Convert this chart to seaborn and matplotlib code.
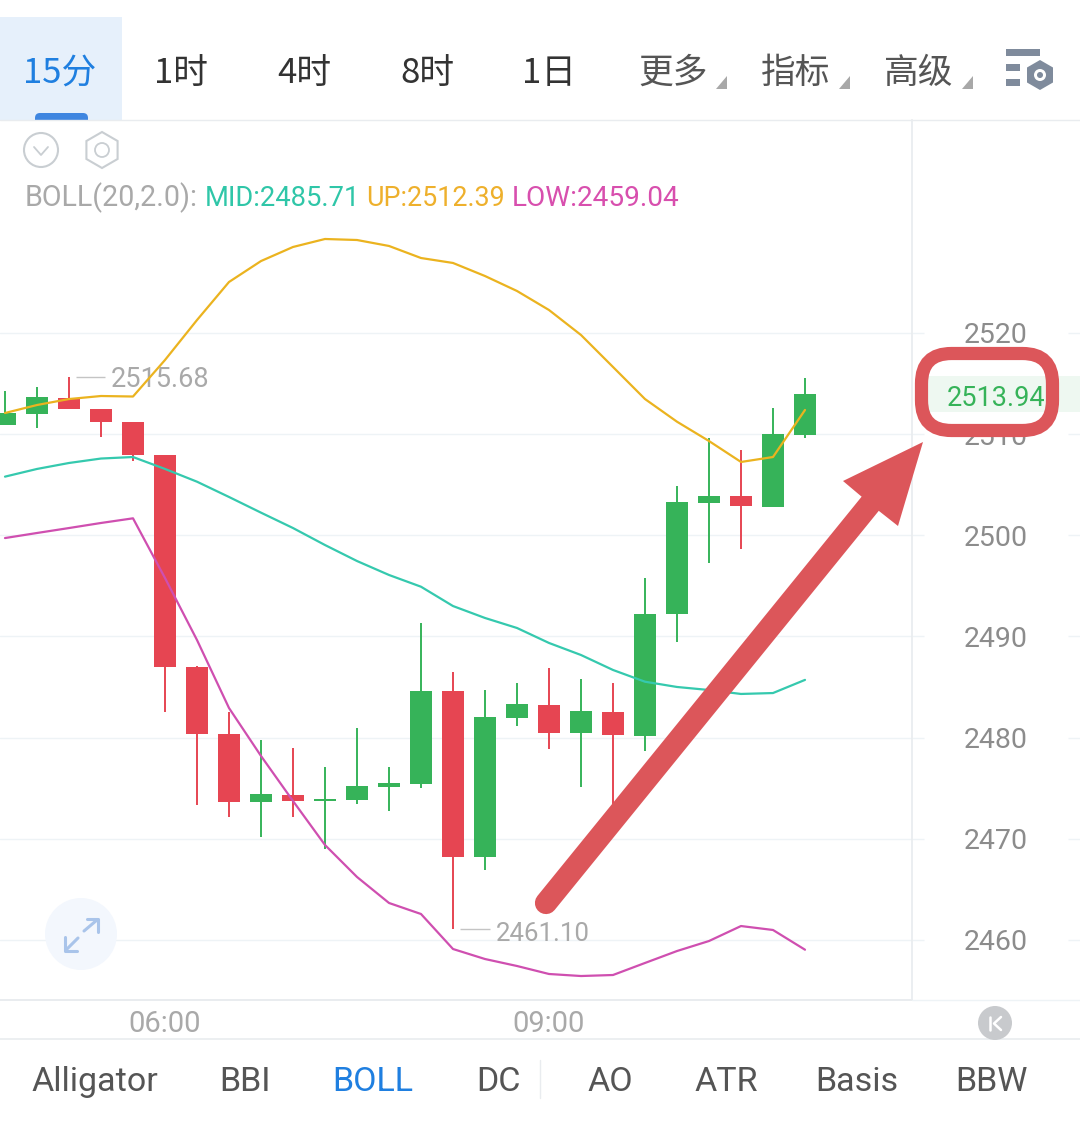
"""
BOLL(20,2) candlestick screen from a trading app, 15 minute bars,
with the red call-out arrow pointing at the latest price.
"""

import matplotlib.pyplot as plt
import numpy as np
import pandas as pd
import seaborn as sns
from matplotlib.patches import Circle, FancyBboxPatch, Polygon, Rectangle

W, H = 1080, 1143

opens = [2510.90, 2511.96, 2513.62, 2512.44, 2511.25, 2507.94, 2486.98, 2480.36, 2473.64, 2474.36,
         2473.74, 2473.84, 2475.15, 2475.45, 2484.61, 2468.20, 2481.94, 2483.23, 2480.46, 2482.54,
         2480.16, 2492.22, 2503.19, 2503.89, 2502.83, 2509.95]
highs = [2514.26, 2514.66, 2515.68, 2512.44, 2511.25, 2507.94, 2487.08, 2482.57, 2479.77, 2478.98,
         2477.13, 2480.95, 2477.13, 2491.33, 2486.52, 2484.71, 2485.40, 2486.89, 2485.80, 2485.40,
         2495.78, 2504.88, 2509.62, 2508.43, 2512.58, 2515.55]
lows = [2510.90, 2510.61, 2512.49, 2509.72, 2507.35, 2482.54, 2473.34, 2472.19, 2470.18, 2472.19,
        2468.99, 2473.44, 2472.75, 2475.02, 2461.10, 2466.92, 2481.15, 2478.88, 2475.15, 2473.34,
        2478.71, 2489.49, 2497.26, 2498.65, 2502.83, 2509.62]
closes = [2512.06, 2513.70, 2512.49, 2511.25, 2507.94, 2486.98, 2480.36, 2473.67, 2474.43, 2473.74,
          2473.94, 2475.22, 2475.52, 2484.61, 2468.23, 2482.04, 2483.33, 2480.49, 2482.64, 2480.26,
          2492.22, 2503.29, 2503.92, 2502.90, 2510.04, 2513.94]

boll_up = [2512.09, 2512.88, 2513.47, 2513.77, 2513.72, 2517.33, 2521.28, 2525.04, 2527.11, 2528.50,
           2529.29, 2529.19, 2528.60, 2527.41, 2526.92, 2525.63, 2524.15, 2522.27, 2519.80, 2516.64,
           2513.47, 2511.23, 2509.32, 2507.25, 2507.74, 2512.39]
boll_mid = [2505.80, 2506.56, 2507.15, 2507.59, 2507.74, 2506.56, 2505.30, 2503.79, 2502.24, 2500.72,
            2499.04, 2497.46, 2496.08, 2494.92, 2493.01, 2491.83, 2490.84, 2489.36, 2488.17, 2486.69,
            2485.53, 2485.01, 2484.71, 2484.32, 2484.41, 2485.71]
boll_low = [2499.73, 2500.23, 2500.72, 2501.22, 2501.68, 2495.78, 2489.65, 2482.93, 2478.19, 2473.74,
            2469.39, 2466.23, 2463.66, 2462.57, 2459.11, 2458.12, 2457.43, 2456.64, 2456.44, 2456.54,
            2457.73, 2458.91, 2459.90, 2461.38, 2460.99, 2459.04]

price_ticks = [2460, 2470, 2480, 2490, 2500, 2510, 2520]
time_ticks = [5, 17]
time_labels = ["06:00", "09:00"]

top_tabs = ["15分", "1时", "4时", "8时", "1日", "更多", "指标", "高级"]
bottom_tabs = ["Alligator", "BBI", "BOLL", "DC", "AO", "ATR", "Basis", "BBW"]

RED = "#e64552"
GREEN = "#36b359"
YELLOW = "#ebb31f"
TEAL = "#35c9ae"
MAGENTA = "#cf4fb0"
BLUE = "#1f7fe0"
ANNOT = "#dc565a"
GRID = "#eef3f6"
EDGE = "#e9ecef"
GREY = "#a9a9a9"

CJK = ["Noto Sans CJK SC", "DejaVu Sans"]
LATIN = ["Roboto", "DejaVu Sans"]


def px(x):
    """Screen x pixel to candle index."""
    return (x - 5) / 32


def draw_candles(ax):
    df = pd.DataFrame({"open": opens, "high": highs, "low": lows, "close": closes})
    df["idx"] = df.index
    colors = [GREEN if c > o else RED for o, c in zip(df["open"], df["close"])]
    ax.vlines(df["idx"], df["low"], df["high"], colors=colors, linewidth=1.4, zorder=3)
    ax.bar(df["idx"], (df["close"] - df["open"]).abs(), bottom=df[["open", "close"]].min(axis=1),
           width=0.665, color=colors, linewidth=0, zorder=3)


def draw_bands(ax):
    bands = pd.DataFrame({"idx": range(len(boll_up)), "up": boll_up, "mid": boll_mid, "low": boll_low})
    for col, color in [("up", YELLOW), ("mid", TEAL), ("low", MAGENTA)]:
        sns.lineplot(data=bands, x="idx", y=col, color=color, linewidth=1.6, ax=ax, zorder=4,
                     errorbar=None, legend=False)


def draw_chart(fig):
    ax = fig.add_axes([0, 1 - 1000 / H, 912 / W, 880 / H])
    draw_candles(ax)
    draw_bands(ax)

    ax.set_xlim(px(0), px(912))
    ax.set_ylim(2460 - 60 / 10.117, 2460 + 820 / 10.117)
    ax.set_xlabel("")
    ax.set_ylabel("")

    ax.yaxis.tick_right()
    ax.set_yticks(price_ticks)
    ax.set_yticklabels([str(t) for t in price_ticks], family=LATIN, fontsize=20.5, color="#8c8c8c")
    ax.set_xticks(time_ticks)
    ax.set_xticklabels(time_labels, family=LATIN, fontsize=21, color=GREY)
    ax.tick_params(axis="y", length=0, pad=37)
    ax.tick_params(axis="x", length=0, pad=7)
    ax.grid(axis="y", color=GRID, linewidth=1)
    ax.grid(axis="x", visible=False)
    ax.set_axisbelow(True)

    for side in ["top", "left"]:
        ax.spines[side].set_visible(False)
    ax.spines["right"].set_color(EDGE)
    ax.spines["bottom"].set_color(EDGE)
    ax.spines["bottom"].set_linewidth(1.4)

    # short tick stubs either side of the price labels
    ax.hlines(price_ticks, px(912), px(924), color=GRID, linewidth=1, clip_on=False)
    ax.hlines(price_ticks, px(1068), px(1080), color=GRID, linewidth=1, clip_on=False)

    # high / low markers
    hi = int(np.argmax(highs))
    lo = int(np.argmin(lows))
    ax.hlines(highs[hi], hi + 0.22, hi + 1.13, color="#c4c4c4", linewidth=1, zorder=2)
    ax.text(hi + 1.31, highs[hi] - 0.3, f"{highs[hi]:.2f}", color=GREY, family=LATIN, fontsize=19.5,
            va="center", zorder=2)
    ax.hlines(lows[lo], lo + 0.22, lo + 1.15, color="#c4c4c4", linewidth=1, zorder=2)
    ax.text(lo + 1.35, lows[lo] - 0.5, f"{lows[lo]:.2f}", color=GREY, family=LATIN, fontsize=18.6,
            va="center", zorder=2)
    return ax


def hexagon(ui, cx, cy, r, **kw):
    ang = np.radians(np.arange(30, 390, 60))
    ui.add_patch(Polygon(np.c_[cx + r * np.cos(ang), cy + r * np.sin(ang)], closed=True, **kw))


def draw_header(ui):
    ui.add_patch(Rectangle((0, 17), 122, 103, color="#e6f0fb", lw=0))
    ui.add_patch(FancyBboxPatch((35, 113), 53, 13, boxstyle="round,pad=0,rounding_size=5", color="#3f86e0", lw=0))
    ui.add_patch(Rectangle((0, 120), 122, 8, color="white", lw=0))
    ui.plot([0, W], [120, 120], color=EDGE, lw=1)

    tab_x = [60, 181, 304, 427, 549, 673, 796, 919]
    for i, (label, x) in enumerate(zip(top_tabs, tab_x)):
        color = BLUE if i == 0 else ("#333333" if i < 5 else "#555555")
        ui.text(x, 73, label, color=color, family=CJK, fontsize=25, ha="center", va="center")
    for x in [716, 839, 962]:
        ui.add_patch(Polygon([(x + 11, 76), (x + 11, 89), (x, 89)], color="#a8a8a8", lw=0))

    # settings icon
    for x0, y0, w in [(1006, 49, 34), (1006, 64, 14), (1006, 79, 14)]:
        ui.add_patch(Rectangle((x0, y0), w, 7, color="#7f8b9c", lw=0))
    hexagon(ui, 1040, 75, 15, color="#7f8b9c", lw=0)
    ui.add_patch(Circle((1040, 75), 6, color="white", lw=0))
    ui.add_patch(Circle((1040, 75), 3, color="#7f8b9c", lw=0))

    # collapse and settings icons over the chart
    ui.add_patch(Circle((41, 150), 17, fill=False, ec="#c9ced2", lw=1.5))
    ui.plot([34, 41, 48], [147, 155, 147], color="#c9ced2", lw=1.3)
    hexagon(ui, 102, 150, 18, fill=False, ec="#c9ced2", lw=1.5)
    ui.add_patch(Circle((102, 150), 7, fill=False, ec="#c9ced2", lw=1.3))

    legend = [("BOLL(20,2.0):", 25, GREY, 20.6), ("MID:2485.71", 205, "#2fc6a8", 19.7),
              ("UP:2512.39", 366, "#eeb02c", 19.4), ("LOW:2459.04", 512, "#d84fae", 20.2)]
    for label, x, color, size in legend:
        ui.text(x, 198, label, color=color, family=LATIN, fontsize=size, ha="left", va="center")


def draw_footer(ui):
    ui.plot([0, W], [1039, 1039], color=EDGE, lw=1.2)
    ui.plot([912, W], [1000, 1000], color=GRID, lw=1)
    ui.plot([540, 540], [1060, 1098], color=EDGE, lw=1)

    tab_x = [94.5, 245, 372.5, 498.5, 610.5, 726.5, 856.5, 991.5]
    for label, x in zip(bottom_tabs, tab_x):
        color = BLUE if label == "BOLL" else "#555555"
        ui.text(x, 1082, label, color=color, family=LATIN, fontsize=24.5, ha="center", va="center")

    # expand button
    ui.add_patch(Circle((81, 934), 36, color="#f3f7fd", lw=0))
    for pts in ([(84, 931), (97, 920)], [(78, 938), (66, 950)]):
        ui.plot(*zip(*pts), color="#a9c4ea", lw=2.2)
    ui.plot([87, 98, 98], [919, 919, 932], color="#a9c4ea", lw=2.2)
    ui.plot([65, 65, 77], [937, 951, 951], color="#a9c4ea", lw=2.2)

    # jump-to-latest button
    ui.add_patch(Circle((995, 1023), 17, color="#c8cacd", lw=0, zorder=3))
    ui.plot([990, 990], [1017, 1030], color="white", lw=1.8, zorder=4)
    ui.plot([1001, 994, 1001], [1017, 1023.5, 1030], color="white", lw=1.8, zorder=4)


def draw_callout(ui):
    # latest price band sits under the red box
    ui.add_patch(Rectangle((925, 376), 155, 36, color="#eef8f1", lw=0))
    ui.text(996, 398, f"{closes[-1]:.2f}", color=GREEN, family=LATIN, fontsize=19.5, ha="center", va="center")

    ui.add_patch(FancyBboxPatch((921.5, 353.5), 131, 77, boxstyle="round,pad=0,rounding_size=30",
                                fill=False, ec=ANNOT, lw=9.5))

    ui.plot([546, 870], [903, 504], color=ANNOT, lw=16, solid_capstyle="round")
    ui.add_patch(Polygon([(923, 442), (843, 481), (862, 497), (879, 511), (898, 526)], color=ANNOT, lw=0))


def main():
    sns.set_theme(style="white")
    plt.rcParams["font.family"] = CJK

    fig = plt.figure(figsize=(W / 100, H / 100), dpi=100, facecolor="white")
    draw_chart(fig)

    ui = fig.add_axes([0, 0, 1, 1])
    ui.set_xlim(0, W)
    ui.set_ylim(H, 0)
    ui.axis("off")
    ui.patch.set_alpha(0)

    draw_header(ui)
    draw_footer(ui)
    draw_callout(ui)

    fig.savefig("out.png", dpi=100)
    plt.close(fig)


if __name__ == "__main__":
    main()
